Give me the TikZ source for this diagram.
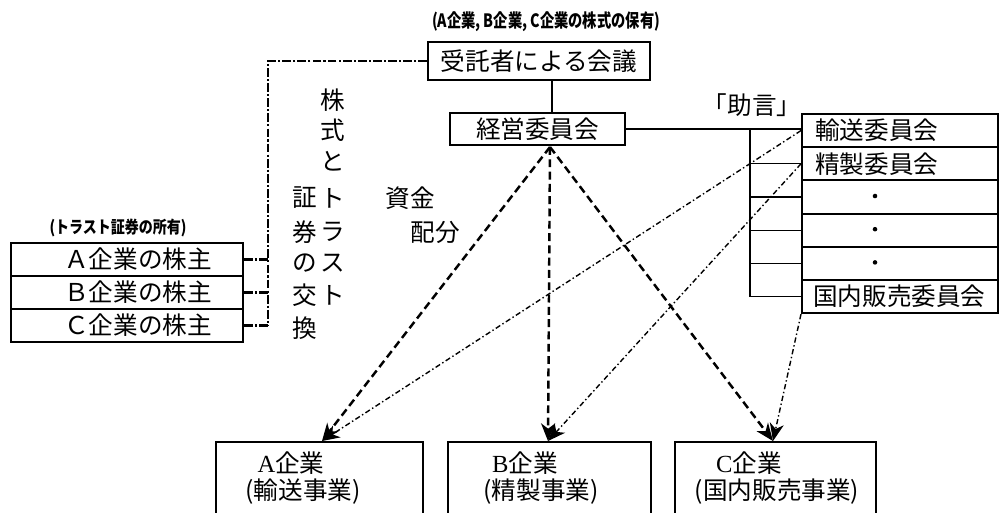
\documentclass[tikz,border=0pt]{standalone}
\usepackage{fontspec}
\setmainfont{Noto Sans CJK JP}
\newfontfamily\latinserif{Liberation Serif}
\usetikzlibrary{arrows.meta,calc}
\begin{document}
\begin{tikzpicture}[x=0.02cm,y=-0.02cm,
  frame/.style={draw,line width=1.1pt,inner sep=0pt},
  jp/.style={font=\fontsize{14pt}{16pt}\selectfont,inner sep=0pt},
  thinl/.style={line width=0.6pt},
  ddline/.style={line width=1.5pt,dash pattern=on 5pt off 1.2pt on 1.2pt off 1.2pt},
  tip/.style={-{Stealth[length=10pt,width=8pt,inset=3pt]}},
  dashar/.style={tip,line width=1.4pt,dash pattern=on 4.5pt off 2.5pt},
  dotar/.style={tip,line width=0.8pt,dash pattern=on 3pt off 1.5pt on 0.8pt off 1.5pt},
]
\useasboundingbox (0,0) rectangle (1000,512);
\fill[white] (0,0) rectangle (1000,512);
\clip (0,0) rectangle (1000,512);

% top
\node (toplabel) at (546,22) {\resizebox*{4.56cm}{0.40cm}{\bfseries (A企業, B企業, C企業の株式の保有)}};
\node[frame,jp,minimum width=4.44cm,minimum height=0.76cm] (trust) at (539,61) {受託者による会議};
\node[frame,jp,minimum width=3.5cm,minimum height=0.64cm] (mgmt) at (537.5,129) {経営委員会};
\coordinate (X) at (552,0);
\draw[thinl] (trust.south -| X) -- (mgmt.north -| X);

% committees
\node[frame,minimum width=3.92cm,minimum height=0.664cm,anchor=north west] (r1) at (801,113) {};
\node[frame,minimum width=3.92cm,minimum height=0.664cm,anchor=north west] (r2) at (801,146.2) {};
\node[frame,minimum width=3.92cm,minimum height=0.664cm,anchor=north west] (r3) at (801,179.4) {};
\node[frame,minimum width=3.92cm,minimum height=0.664cm,anchor=north west] (r4) at (801,212.6) {};
\node[frame,minimum width=3.92cm,minimum height=0.664cm,anchor=north west] (r5) at (801,245.8) {};
\node[frame,minimum width=3.92cm,minimum height=0.664cm,anchor=north west] (r6) at (801,279) {};
\node[jp,anchor=west] (r1t) at ([xshift=0.28cm]r1.west) {輸送委員会};
\node[jp,anchor=west] (r2t) at ([xshift=0.28cm]r2.west) {精製委員会};
\node[jp,anchor=west] (r6t) at ([xshift=0.24cm]r6.west) {国内販売委員会};
\node[circle,fill,inner sep=0pt,minimum size=2.6pt] (dot3) at (875,196) {};
\node[circle,fill,inner sep=0pt,minimum size=2.6pt] (dot4) at (875,229.2) {};
\node[circle,fill,inner sep=0pt,minimum size=2.6pt] (dot5) at (875,262.4) {};
\node[jp] (advice) at (752,105) {「助言」};

% ladder
\coordinate (L) at (750,0);
\draw[thinl] (mgmt.east) -- (mgmt.east -| r1.west);
\draw[thinl] (L |- mgmt.east) -- (L |- r6.west);
\foreach \r in {r2,r3,r4,r5,r6} \draw[thinl] (L |- \r.west) -- (\r.west);

% left stack
\node[frame,minimum width=4.64cm,minimum height=0.66cm] (s1) at (127,259.5) {};
\node[frame,minimum width=4.64cm,minimum height=0.66cm] (s2) at (127,292.5) {};
\node[frame,minimum width=4.64cm,minimum height=0.66cm] (s3) at (127,325.5) {};
\node[jp] (s1t) at (138,259.5) {Ａ企業の株主};
\node[jp] (s2t) at (138,292.5) {Ｂ企業の株主};
\node[jp] (s3t) at (138,325.5) {Ｃ企業の株主};
\node (leftlabel) at (118,228) {\resizebox*{2.74cm}{0.36cm}{\bfseries (トラスト証券の所有)}};

\coordinate (V) at (268,0);
\draw[ddline] (trust.west) -- (trust.west -| V) -- (V |- s3.east);
\foreach \s in {s1,s2,s3} \draw[ddline] (\s.east) -- (\s.east -| V);

% vertical texts
\foreach \c/\y [count=\i] in {株/100,式/130,と/161,ト/198,ラ/232,ス/263,ト/295}
  \node[jp] (va\i) at (333,\y) {\c};
\foreach \c/\y [count=\i] in {証/198,券/232,の/263,交/295,換/328}
  \node[jp] (vb\i) at (305,\y) {\c};
\node[jp] (fund1) at (410,198) {資金};
\node[jp] (fund2) at (435,232) {配分};

% bottom boxes
\node[frame,minimum width=4.14cm,minimum height=2cm,anchor=north west] (A) at (215,441) {};
\node[frame,minimum width=4.06cm,minimum height=2cm,anchor=north west] (B) at (447,441) {};
\node[frame,minimum width=4.02cm,minimum height=2cm,anchor=north west] (C) at (674,441) {};
\node[jp] (At1) at (291,463) {{\latinserif A}企業};
\node[jp] (At2) at (303,492) {(輸送事業)};
\node[jp] (Bt1) at (525,463) {{\latinserif B}企業};
\node[jp] (Bt2) at (541,492) {(精製事業)};
\node[jp] (Ct1) at (749,463) {{\latinserif C}企業};
\node[jp] (Ct2) at (777,492) {(国内販売事業)};

% arrows
\coordinate (apex) at (550,147);
\coordinate (tA) at (322,441);
\coordinate (tB) at (548,441);
\coordinate (tC) at (773,441);
\draw[dashar] (apex) -- (tA);
\draw[dashar] (apex) -- (tB);
\draw[dashar] (apex) -- (tC);
\draw[dotar] (r1.west) -- (tA);
\draw[dotar] (r2.west) -- (tB);
\draw[dotar] (r6.south west) -- (tC);
\end{tikzpicture}
\end{document}
